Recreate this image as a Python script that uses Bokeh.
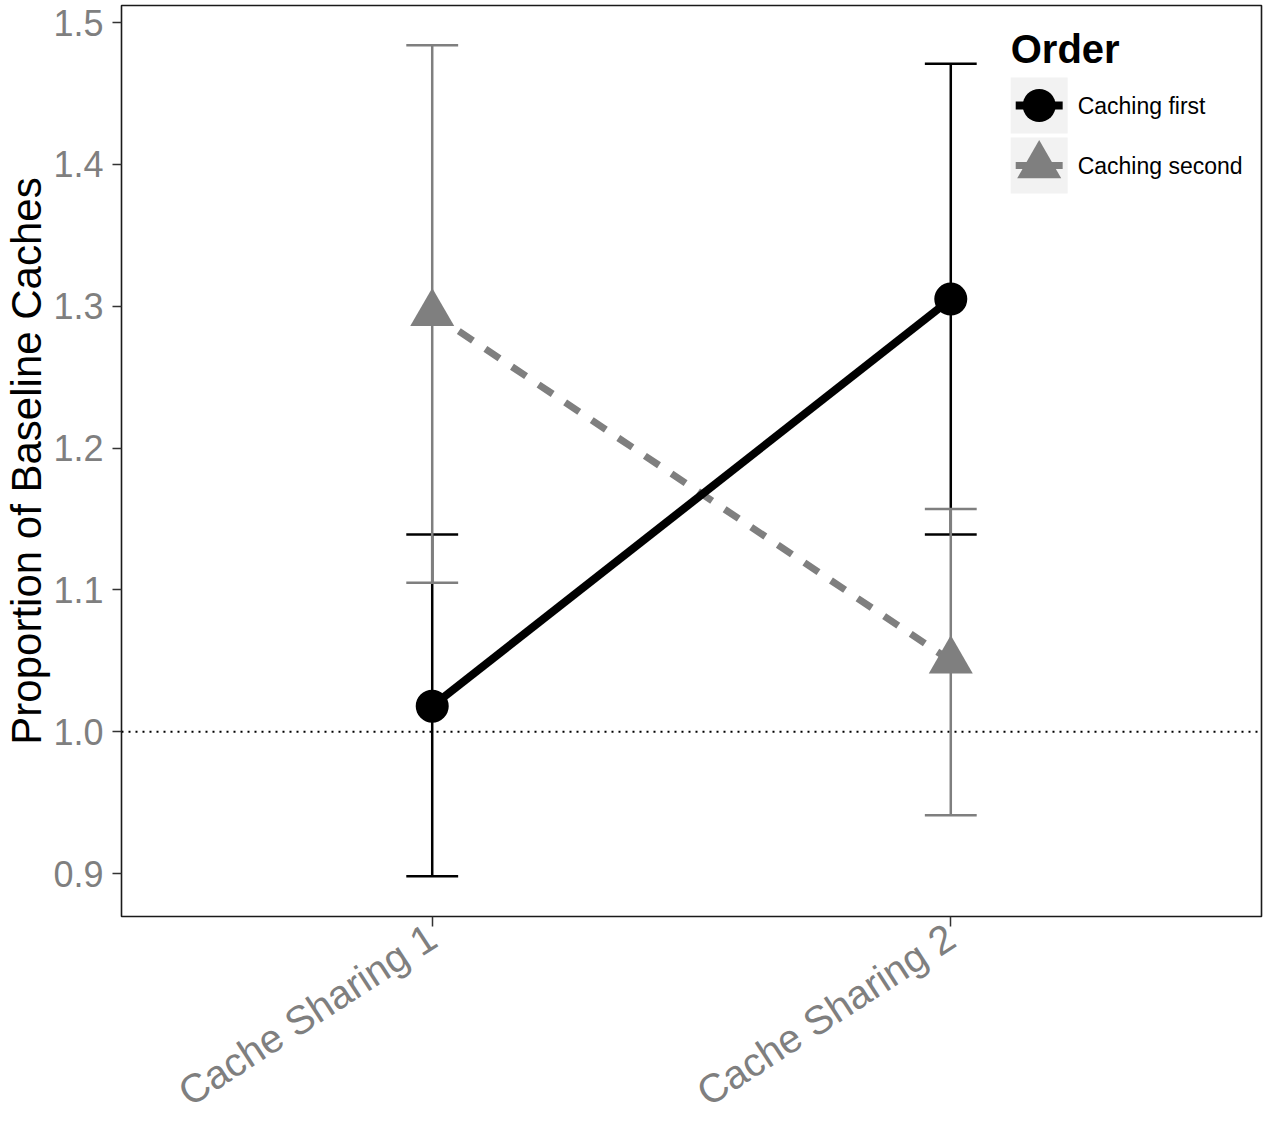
import math
from bokeh.plotting import figure
from bokeh.models import Range1d, FixedTicker, Span
from bokeh.embed import file_html
from bokeh.resources import INLINE
from bokeh.core.properties import value

# ---------------- data ----------------
categories = ["Cache Sharing 1", "Cache Sharing 2"]
orders = ["Caching first", "Caching second"]
first_mean = [1.018, 1.305]
first_lower = [0.898, 1.139]
first_upper = [1.139, 1.471]
second_mean = [1.295, 1.050]
second_lower = [1.105, 0.941]
second_upper = [1.484, 1.157]
y_ticks = [0.9, 1.0, 1.1, 1.2, 1.3, 1.4, 1.5]
baseline = 1.0

# ---------------- styling ----------------
FONT = "Liberation Sans"
BLACK = "#000000"
GREY = "#7F7F7F"
W, H = 1267, 1135
# pixel geometry of the plotting frame
FL, FR, FT, FB = 120.0, 1261.0, 5.0, 916.0
X0, X1 = 0.4008, 2.5992
Y0, Y1 = 0.8697, 1.5120

def sx(px):
    return X0 + (px - FL) * (X1 - X0) / (FR - FL)

def sy(py):
    return Y1 - (py - FT) * (Y1 - Y0) / (FB - FT)

xs = [i + 1 for i in range(len(categories))]
cap = 0.05

p = figure(width=W, height=H, output_backend="svg", toolbar_location=None,
           x_range=Range1d(X0, X1), y_range=Range1d(Y0, Y1),
           min_border_left=int(FL), min_border_right=int(W - FR),
           min_border_top=int(FT), min_border_bottom=int(H - FB))
p.background_fill_color = "white"
p.border_fill_color = "white"
p.outline_line_color = "#1a1a1a"
p.outline_line_width = 1.6
p.xgrid.visible = False
p.ygrid.visible = False

# axes
p.xaxis.ticker = FixedTicker(ticks=xs)
p.xaxis.major_label_overrides = {x: c for x, c in zip(xs, categories)}
p.xaxis.major_label_orientation = math.radians(33)
p.yaxis.ticker = FixedTicker(ticks=y_ticks)
p.yaxis.major_label_overrides = {t: f"{t:.1f}" for t in y_ticks}
p.yaxis.axis_label = "Proportion of Baseline Caches"
for ax in (p.xaxis, p.yaxis):
    ax.axis_line_color = None
    ax.major_tick_line_color = "#333333"
    ax.major_tick_line_width = 1.5
    ax.major_tick_in = 0
    ax.minor_tick_line_color = None
    ax.major_label_text_font = FONT
    ax.major_label_text_color = GREY
p.xaxis.major_label_text_font_size = "40px"
p.xaxis.major_tick_out = 10
p.xaxis.major_label_standoff = 7
p.yaxis.major_label_text_font_size = "36px"
p.yaxis.major_tick_out = 9
p.yaxis.major_label_standoff = 9
p.yaxis.axis_label_text_font = FONT
p.yaxis.axis_label_text_font_size = "42px"
p.yaxis.axis_label_text_font_style = "normal"
p.yaxis.axis_label_text_color = BLACK
p.yaxis.axis_label_standoff = 0

# baseline reference line
p.add_layout(Span(location=baseline, dimension="width", line_color=BLACK,
                  line_width=2, line_dash="2 5", level="underlay"))

# error bars
def errorbars(lower, upper, color):
    p.segment(x0=xs, y0=lower, x1=xs, y1=upper, line_color=color, line_width=2.5)
    p.segment(x0=[x - cap for x in xs], y0=lower, x1=[x + cap for x in xs], y1=lower,
              line_color=color, line_width=2.5)
    p.segment(x0=[x - cap for x in xs], y0=upper, x1=[x + cap for x in xs], y1=upper,
              line_color=color, line_width=2.5)

errorbars(first_lower, first_upper, BLACK)
errorbars(second_lower, second_upper, GREY)

# lines
p.line(xs, second_mean, line_color=GREY, line_width=7, line_dash="17 15")
p.line(xs, first_mean, line_color=BLACK, line_width=8)

# points
p.scatter(xs, second_mean, marker="triangle", size=44, fill_color=GREY, line_color=None)
p.scatter(xs, first_mean, marker="circle", size=33, fill_color=BLACK, line_color=None)

# ---------------- legend (drawn by hand, ggplot style) ----------------
key_cy = [105.0, 165.0]
p.rect(x=[sx(1038.5)] * 2, y=[sy(c) for c in key_cy], width=57, height=56,
       width_units="screen", height_units="screen", fill_color="#F2F2F2", line_color=None)
p.segment(x0=[sx(1015)], y0=[sy(key_cy[0])], x1=[sx(1062)], y1=[sy(key_cy[0])],
          line_color=BLACK, line_width=8)
p.segment(x0=[sx(1015)], y0=[sy(key_cy[1])], x1=[sx(1062)], y1=[sy(key_cy[1])],
          line_color=GREY, line_width=7, line_dash="17 15")
p.scatter([sx(1038.5)], [sy(key_cy[0])], marker="circle", size=33, fill_color=BLACK, line_color=None)
p.scatter([sx(1038.5)], [sy(key_cy[1])], marker="triangle", size=44, fill_color=GREY, line_color=None)
p.text(x=[sx(1077)] * 2, y=[sy(c) for c in key_cy], text=orders,
       text_font=value(FONT), text_font_size="23px", text_color=BLACK,
       text_baseline="middle", text_align="left")
p.text(x=[sx(1010)], y=[sy(48.5)], text=["Order"], text_font=value(FONT),
       text_font_size="40px", text_font_style="bold", text_color=BLACK,
       text_baseline="middle", text_align="left")

open("out.html", "w").write(file_html(p, INLINE))
